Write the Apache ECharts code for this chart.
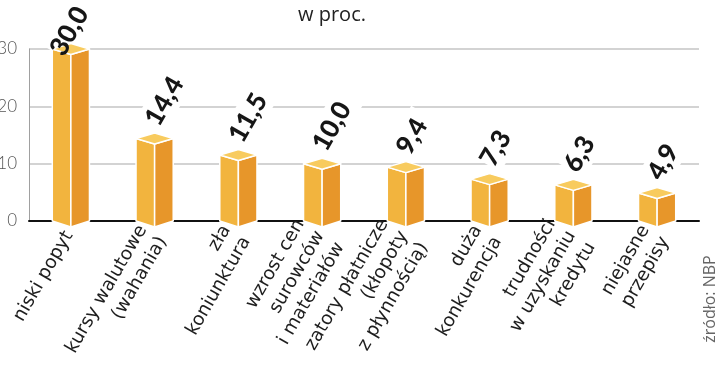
<!DOCTYPE html>
<html><head><meta charset="utf-8">
<script src="https://cdn.jsdelivr.net/npm/echarts@6/dist/echarts.min.js"></script>
<style>html,body{margin:0;padding:0;background:#fff}#c{width:720px;height:387px}</style>
</head><body><div id="c"></div>
<script>
const categories = ['niski popyt','kursy walutowe\n(wahania)','zła\nkoniunktura','wzrost cen\nsurowców\ni materiałów','zatory płatnicze\n(kłopoty\nz płynnością)','duża\nkonkurencja','trudności\nw uzyskaniu\nkredytu','niejasne\nprzepisy'];
const values = [30.0, 14.4, 11.5, 10.0, 9.4, 7.3, 6.3, 4.9];
const yTicks = [0, 10, 20, 30];
const titleText = 'w proc.';
const sourceText = 'źródło: NBP';

const VAL_FONT = '900 26px Lato';
const measureCtx = document.createElement('canvas').getContext('2d');
function textWidth(t, font){ measureCtx.font = font; return measureCtx.measureText(t).width; }
function fmt(v){ return v.toFixed(1).replace('.', ','); }

const LEFT_C = '#F2B43E', RIGHT_C = '#E7962A', TOP_C = '#F8CB5E';

function renderItem(params, api){
  const i = api.value(0), v = api.value(1);
  const top = api.coord([i, v]);
  const base = api.coord([i, 0]);
  const hw = api.size([1, 0])[0] * 0.222;
  const d = 5.5;
  const cx = top[0], ty = top[1], by = base[1];
  const ang = Math.PI / 3;
  const label = fmt(v);
  const L = textWidth(label, VAL_FONT);
  let sx = cx - 3, sy = ty - 15;
  const endY = sy - L * Math.sin(ang);
  if (endY < 9) {
    const t = (9 - endY) / Math.sin(ang);
    sx -= t * Math.cos(ang); sy += t * Math.sin(ang);
  }
  const stroke = {stroke:'#fff', lineWidth:1.5, lineJoin:'round'};
  return {type:'group', children:[
    {type:'text', x:sx, y:sy, rotation:ang, style:{text:label, font:VAL_FONT, fill:'rgba(0,0,0,0)', align:'left', verticalAlign:'middle', backgroundColor:'#fff', padding:[3,4]}},
    {type:'polygon', shape:{points:[[cx-hw,ty],[cx,ty+d],[cx,by+6],[cx-hw,by]]}, style:Object.assign({fill:LEFT_C}, stroke)},
    {type:'polygon', shape:{points:[[cx,ty+d],[cx+hw,ty],[cx+hw,by],[cx,by+6]]}, style:Object.assign({fill:RIGHT_C}, stroke)},
    {type:'polygon', shape:{points:[[cx-hw,ty],[cx,ty-d],[cx+hw,ty],[cx,ty+d]]}, style:Object.assign({fill:TOP_C}, stroke)},
    {type:'text', x:sx, y:sy, rotation:ang, style:{text:label, font:VAL_FONT, fill:'#161616', align:'left', verticalAlign:'middle'}}
  ]};
}
const chart = echarts.init(document.getElementById('c'), null, {renderer:'canvas'});
chart.setOption({
  animation:false,
  backgroundColor:'#fff',
  grid:{left:29, right:21, top:49, bottom:166, outerBoundsMode:'none'},
  xAxis:{type:'category', data:categories, boundaryGap:true,
    axisLine:{show:true, lineStyle:{color:'#111', width:2}}, axisTick:{show:false},
    axisLabel:{interval:0, rotate:60, fontFamily:'DejaVu Sans', fontSize:18.5, color:'#1e1e1e', lineHeight:23, margin:8, padding:[70,4,0,0]}},
  yAxis:{type:'value', min:yTicks[0], max:yTicks[yTicks.length-1], interval:10,
    axisLine:{show:true, lineStyle:{color:'#a0a0a0', width:1}}, axisTick:{show:false},
    splitLine:{lineStyle:{color:'#c4c4c4', width:1.5}},
    axisLabel:{fontFamily:'Lato', fontWeight:300, fontSize:17, color:'#555', margin:12}},
  graphic:[
    {type:'text', left:298, top:5, style:{text:titleText, font:'20px "Open Sans"', fill:'#222'}},
    {type:'text', x:710, y:299, rotation:Math.PI/2, style:{text:sourceText, font:'16px "Open Sans"', fill:'#666', align:'center', verticalAlign:'middle'}}
  ],
  series:[{type:'custom', renderItem:renderItem, data:values.map((v,i)=>[i,v]), encode:{x:0, y:1}, clip:false}]
});
</script></body></html>
